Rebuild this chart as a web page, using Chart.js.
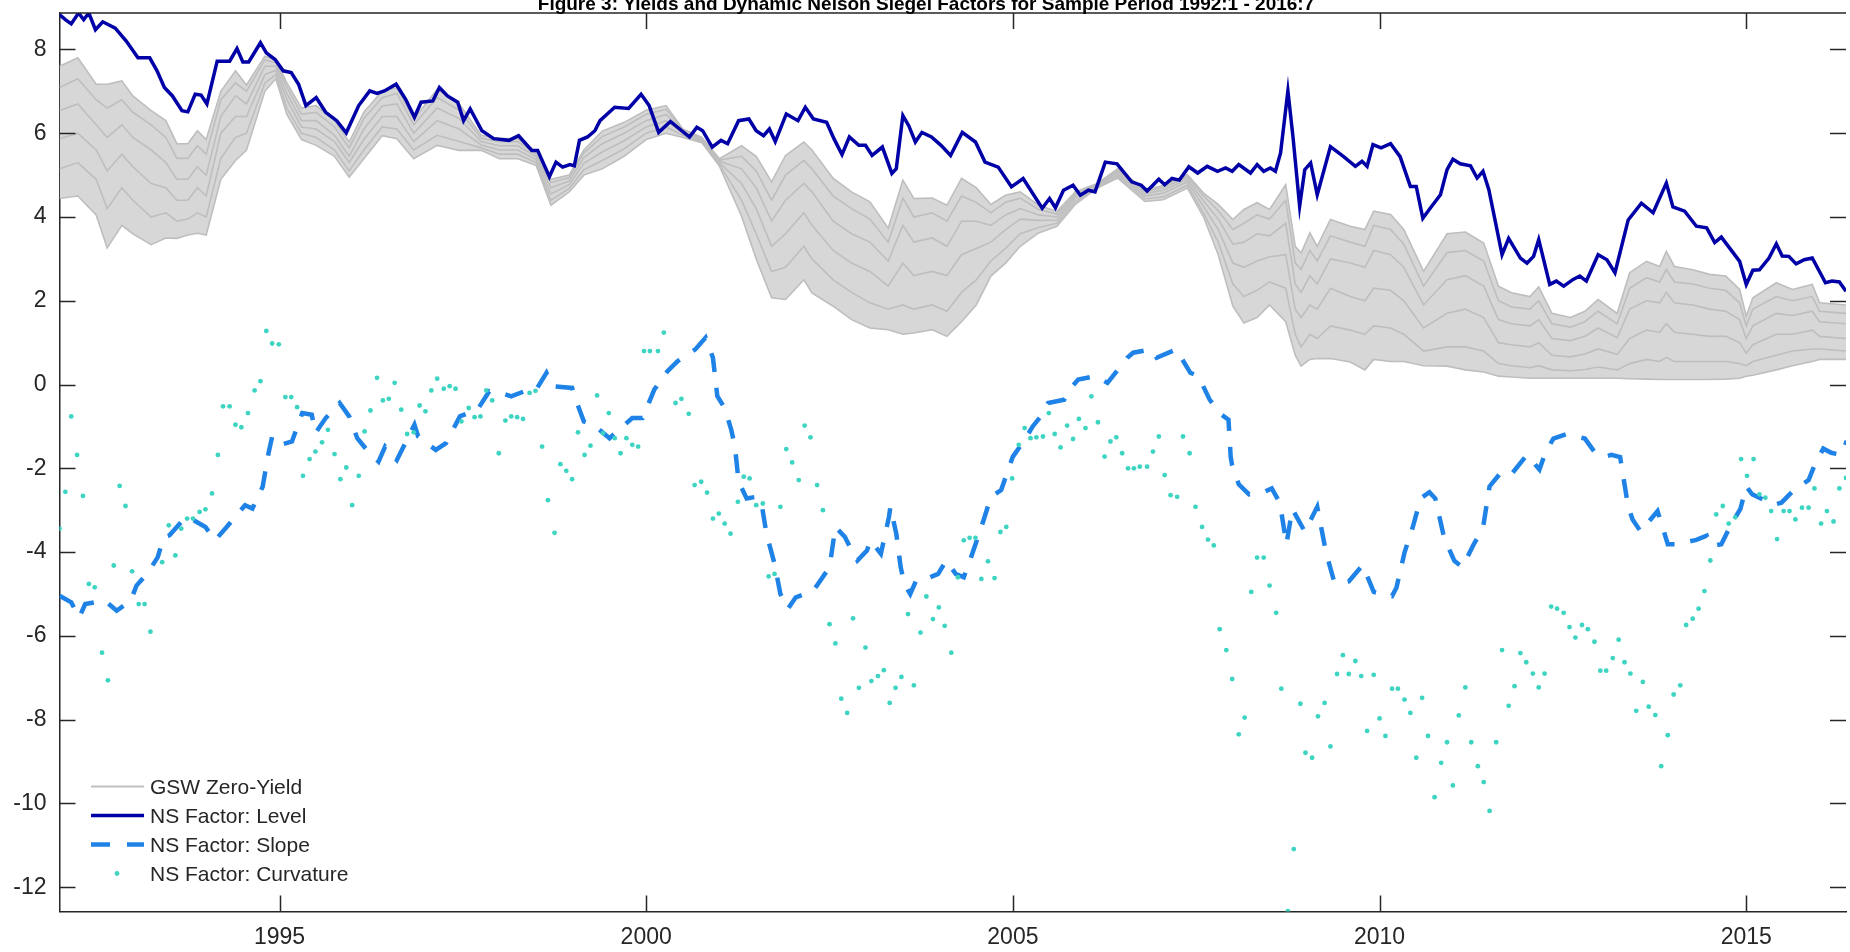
<!DOCTYPE html>
<html>
<head>
<meta charset="utf-8">
<title>Yields and Dynamic Nelson Siegel Factors</title>
<script src="https://cdn.jsdelivr.net/npm/chart.js@4.4.1/dist/chart.umd.min.js"></script>
<style>
  html, body { margin: 0; padding: 0; background: #fff; }
  #wrap { position: relative; width: 1850px; height: 952px; overflow: hidden; }
  #legend { position: absolute; left: 91px; top: 772px; font: 21px "Liberation Sans", Arial, sans-serif; color: #262626; }
  .row { height: 29px; display: flex; align-items: center; white-space: nowrap; }
  .row svg { width: 54px; height: 29px; margin-right: 5px; flex: none; }
</style>
</head>
<body>
<div id="wrap">
  <canvas id="chart" width="1850" height="952"></canvas>
  <div id="legend"></div>
</div>
<script>
const titleText = 'Figure 3: Yields and Dynamic Nelson Siegel Factors for Sample Period 1992:1 - 2016:7';
const seriesNames = ['GSW Zero-Yield', 'NS Factor: Level', 'NS Factor: Slope', 'NS Factor: Curvature'];

const xTicks = [1995, 2000, 2005, 2010, 2015];
const yTicks = [-12, -10, -8, -6, -4, -2, 0, 2, 4, 6, 8];

// GSW zero-coupon yields: shortest maturity (bottom of band) up to longest (top)
const yieldYears = [
  1992.0, 1992.25, 1992.5, 1992.65, 1992.85, 1993.0, 1993.25, 1993.45, 1993.6, 1993.75,
  1993.88, 1994.0, 1994.2, 1994.4, 1994.55, 1994.8, 1994.95, 1995.1, 1995.3, 1995.5,
  1995.75, 1995.95, 1996.15, 1996.4, 1996.6, 1996.83, 1997.15, 1997.45, 1997.75, 1998.0,
  1998.25, 1998.5, 1998.7, 1998.95, 1999.15, 1999.4, 1999.7, 2000.0, 2000.27, 2000.5,
  2000.76, 2001.0, 2001.3, 2001.5, 2001.71, 2001.9, 2002.15, 2002.26, 2002.55, 2002.8,
  2003.05, 2003.3, 2003.5, 2003.65, 2003.9, 2004.1, 2004.3, 2004.5, 2004.7, 2004.9,
  2005.1, 2005.35, 2005.6, 2005.85, 2006.15, 2006.43, 2006.8, 2007.05, 2007.38, 2007.6,
  2007.8, 2008.0, 2008.15, 2008.33, 2008.5, 2008.72, 2008.85, 2008.93, 2009.05, 2009.15,
  2009.33, 2009.6, 2009.8, 2009.92, 2010.15, 2010.33, 2010.6, 2010.92, 2011.17, 2011.42,
  2011.62, 2011.8, 2012.05, 2012.17, 2012.35, 2012.6, 2012.8, 2012.98, 2013.24, 2013.41,
  2013.64, 2013.82, 2013.91, 2014.02, 2014.27, 2014.5, 2014.72, 2014.91, 2015.0, 2015.09,
  2015.41, 2015.63, 2015.9, 2016.0, 2016.36
];
const yieldShort = [
  4.44, 4.5, 4.05, 3.26, 3.8, 3.6, 3.34, 3.5, 3.49, 3.57,
  3.61, 3.57, 4.9, 5.35, 5.6, 7.0, 7.3, 6.45, 5.85, 5.71,
  5.45, 4.95, 5.39, 5.94, 5.87, 5.39, 5.71, 5.59, 5.59, 5.39,
  5.39, 5.23, 4.28, 4.6, 5.0, 5.15, 5.45, 5.85, 6.0, 5.9,
  5.77, 5.21, 4.02, 3.0, 2.07, 2.03, 2.5, 2.19, 1.87, 1.55,
  1.35, 1.31, 1.2, 1.23, 1.31, 1.15, 1.5, 1.9, 2.59, 2.9,
  3.3, 3.62, 3.78, 4.3, 4.69, 4.93, 4.37, 4.41, 4.69, 4.0,
  3.1, 1.87, 1.47, 1.6, 1.9, 1.5, 0.7, 0.44, 0.6, 0.62,
  0.62, 0.54, 0.35, 0.6, 0.55, 0.55, 0.45, 0.44, 0.35, 0.3,
  0.2, 0.18, 0.15, 0.15, 0.15, 0.15, 0.15, 0.15, 0.15, 0.14,
  0.13, 0.12, 0.12, 0.12, 0.12, 0.12, 0.13, 0.15, 0.2, 0.22,
  0.35, 0.45, 0.55, 0.6, 0.6
];
const yield2 = [
  5.15, 5.3, 4.9, 4.2, 4.7, 4.4, 4.0, 4.1, 3.9, 3.95,
  4.1, 4.0, 5.4, 5.9, 6.0, 7.2, 7.4, 6.6, 6.0, 5.9,
  5.6, 5.1, 5.6, 6.15, 6.1, 5.6, 5.95, 5.8, 5.65, 5.5,
  5.5, 5.3, 4.4, 4.68, 5.13, 5.35, 5.63, 6.0, 6.15, 5.95,
  5.79, 5.25, 4.4, 3.6, 2.7, 2.8, 3.3, 3.0, 2.5, 2.2,
  1.95, 1.8, 1.9, 1.8, 1.9, 1.75, 2.2, 2.5, 2.95, 3.25,
  3.6, 3.75, 3.85, 4.37, 4.7, 4.97, 4.43, 4.48, 4.76, 4.1,
  3.4, 2.4, 2.1, 2.25, 2.45, 2.3, 1.2, 0.9, 1.2, 1.1,
  1.4, 1.3, 1.2, 1.4, 1.35, 1.2, 0.8, 0.9, 0.9, 0.8,
  0.5, 0.45, 0.4, 0.45, 0.35, 0.33, 0.36, 0.42, 0.35, 0.5,
  0.6, 0.55, 0.65, 0.55, 0.55, 0.55, 0.55, 0.5, 0.45, 0.55,
  0.7, 0.8, 0.85, 0.85, 0.8
];
const yield5 = [
  5.87, 6.0, 5.6, 5.1, 5.5, 5.2, 4.8, 4.7, 4.4, 4.4,
  4.7, 4.5, 6.0, 6.4, 6.4, 7.4, 7.5, 6.8, 6.15, 6.1,
  5.8, 5.3, 5.85, 6.4, 6.4, 5.8, 6.3, 6.1, 5.72, 5.6,
  5.6, 5.37, 4.55, 4.77, 5.28, 5.55, 5.82, 6.15, 6.3, 6.0,
  5.81, 5.29, 4.8, 4.2, 3.3, 3.6, 4.1, 3.8, 3.2, 2.9,
  2.7, 2.35, 2.9, 2.6, 2.7, 2.6, 3.1, 3.25, 3.4, 3.7,
  3.95, 3.92, 3.93, 4.44, 4.72, 5.02, 4.5, 4.57, 4.84, 4.25,
  3.7, 2.9, 2.8, 2.95, 3.05, 3.1, 1.8, 1.6, 1.9, 1.8,
  2.3, 2.1, 2.0, 2.3, 2.25, 2.0, 1.35, 1.7, 1.8, 1.6,
  1.0, 0.95, 0.9, 1.0, 0.7, 0.66, 0.73, 0.85, 0.72, 1.1,
  1.3, 1.25, 1.45, 1.25, 1.2, 1.15, 1.15, 1.0, 0.75, 0.95,
  1.2, 1.2, 1.3, 1.15, 1.1
];
const yield10 = [
  6.54, 6.7, 6.2, 5.9, 6.2, 5.9, 5.6, 5.3, 4.9, 4.9,
  5.2, 5.0, 6.4, 6.9, 6.7, 7.6, 7.6, 6.95, 6.3, 6.3,
  5.95, 5.45, 6.1, 6.65, 6.7, 6.0, 6.6, 6.35, 5.8, 5.7,
  5.7, 5.44, 4.7, 4.86, 5.42, 5.75, 6.0, 6.3, 6.45, 6.05,
  5.84, 5.33, 5.15, 4.7, 3.9, 4.4, 4.8, 4.6, 3.9, 3.6,
  3.4, 2.95, 3.8, 3.4, 3.5, 3.3, 3.9, 3.9, 3.8, 4.05,
  4.2, 4.05, 4.0, 4.5, 4.75, 5.07, 4.56, 4.64, 4.9, 4.38,
  3.95, 3.35, 3.4, 3.6, 3.55, 3.85, 2.4, 2.2, 2.6, 2.4,
  3.0, 2.9, 2.8, 3.2, 3.1, 2.8, 1.9, 2.5, 2.6, 2.35,
  1.55, 1.45, 1.4, 1.55, 1.1, 1.05, 1.15, 1.35, 1.12, 1.8,
  2.0, 1.95, 2.2, 1.95, 1.9, 1.8, 1.75, 1.55, 1.1, 1.4,
  1.7, 1.65, 1.75, 1.5, 1.45
];
const yield20 = [
  7.09, 7.3, 6.8, 6.6, 6.8, 6.5, 6.2, 5.9, 5.4, 5.4,
  5.7, 5.5, 6.8, 7.2, 7.0, 7.75, 7.68, 7.1, 6.45, 6.5,
  6.15, 5.65, 6.35, 6.85, 6.95, 6.2, 6.85, 6.55, 5.88, 5.8,
  5.8, 5.5, 4.82, 4.94, 5.53, 5.92, 6.15, 6.45, 6.57, 6.08,
  5.87, 5.36, 5.45, 5.1, 4.4, 5.0, 5.35, 5.15, 4.5, 4.2,
  3.95, 3.4, 4.45, 4.0, 4.1, 3.9, 4.5, 4.35, 4.1, 4.35,
  4.45, 4.18, 4.07, 4.55, 4.78, 5.11, 4.61, 4.7, 4.96, 4.5,
  4.15, 3.7, 3.85, 4.05, 3.95, 4.4, 2.9, 2.75, 3.2, 2.95,
  3.55, 3.4, 3.3, 3.8, 3.7, 3.35, 2.35, 3.15, 3.2, 2.95,
  2.0, 1.85, 1.8, 2.0, 1.45, 1.37, 1.5, 1.75, 1.45, 2.3,
  2.55, 2.45, 2.75, 2.45, 2.4, 2.3, 2.25, 1.95, 1.4, 1.8,
  2.1, 2.0, 2.1, 1.75, 1.7
];
const yieldLong = [
  7.6, 7.8, 7.17, 7.17, 7.25, 6.89, 6.54, 6.3, 5.75, 5.75,
  6.06, 5.85, 7.0, 7.49, 7.15, 7.84, 7.75, 7.2, 6.6, 6.66,
  6.3, 5.79, 6.5, 7.0, 7.09, 6.34, 7.05, 6.7, 5.95, 5.87,
  5.87, 5.55, 4.9, 5.0, 5.6, 6.05, 6.26, 6.55, 6.66, 6.1,
  5.9, 5.39, 5.7, 5.45, 4.84, 5.47, 5.79, 5.6, 4.92, 4.6,
  4.36, 3.73, 4.88, 4.44, 4.45, 4.28, 4.92, 4.7, 4.3, 4.52,
  4.6, 4.28, 4.13, 4.6, 4.8, 5.15, 4.65, 4.75, 5.01, 4.57,
  4.3, 3.94, 4.18, 4.34, 4.18, 4.77, 3.3, 3.14, 3.62, 3.3,
  3.94, 3.78, 3.7, 4.14, 4.06, 3.7, 2.7, 3.6, 3.64, 3.38,
  2.35, 2.19, 2.1, 2.33, 1.7, 1.6, 1.75, 2.03, 1.7, 2.67,
  2.94, 2.82, 3.18, 2.82, 2.74, 2.63, 2.59, 2.27, 1.63, 2.07,
  2.43, 2.27, 2.39, 1.95, 1.9
];

// NS factor: level
const levelYears = [
  1992.0, 1992.08, 1992.16, 1992.26, 1992.33, 1992.4, 1992.49, 1992.59, 1992.76, 1992.91,
  1993.07, 1993.23, 1993.33, 1993.43, 1993.54, 1993.67, 1993.75, 1993.85, 1993.93, 1994.01,
  1994.15, 1994.32, 1994.42, 1994.5, 1994.58, 1994.74, 1994.82, 1994.94, 1995.05, 1995.16,
  1995.26, 1995.36, 1995.5, 1995.63, 1995.78, 1995.91, 1996.08, 1996.23, 1996.33, 1996.43,
  1996.59, 1996.72, 1996.84, 1996.93, 1997.09, 1997.18, 1997.29, 1997.43, 1997.51, 1997.6,
  1997.76, 1997.92, 1998.13, 1998.26, 1998.44, 1998.52, 1998.68, 1998.77, 1998.86, 1998.96,
  1999.02, 1999.09, 1999.2, 1999.3, 1999.37, 1999.57, 1999.76, 1999.93, 2000.04, 2000.17,
  2000.33, 2000.59, 2000.69, 2000.77, 2000.9, 2001.02, 2001.11, 2001.26, 2001.4, 2001.5,
  2001.6, 2001.68, 2001.76, 2001.91, 2002.07, 2002.17, 2002.28, 2002.46, 2002.56, 2002.67,
  2002.77, 2002.9, 2002.99, 2003.08, 2003.22, 2003.35, 2003.41, 2003.5, 2003.58, 2003.67,
  2003.76, 2003.89, 2004.02, 2004.15, 2004.31, 2004.49, 2004.62, 2004.8, 2004.98, 2005.14,
  2005.4, 2005.5, 2005.58, 2005.69, 2005.82, 2005.92, 2006.03, 2006.12, 2006.26, 2006.42,
  2006.62, 2006.75, 2006.83, 2006.99, 2007.07, 2007.17, 2007.27, 2007.4, 2007.52, 2007.65,
  2007.79, 2007.9, 2007.99, 2008.08, 2008.24, 2008.33, 2008.42, 2008.51, 2008.58, 2008.65,
  2008.75, 2008.82, 2008.91, 2008.98, 2009.06, 2009.15, 2009.33, 2009.51, 2009.67, 2009.76,
  2009.83, 2009.91, 2010.02, 2010.15, 2010.28, 2010.42, 2010.5, 2010.59, 2010.69, 2010.83,
  2010.92, 2011.0, 2011.1, 2011.24, 2011.33, 2011.41, 2011.49, 2011.67, 2011.76, 2011.92,
  2012.01, 2012.1, 2012.17, 2012.32, 2012.41, 2012.51, 2012.64, 2012.73, 2012.82, 2012.98,
  2013.1, 2013.21, 2013.39, 2013.57, 2013.73, 2013.91, 2014.0, 2014.16, 2014.32, 2014.46,
  2014.57, 2014.66, 2014.91, 2015.0, 2015.09, 2015.18, 2015.31, 2015.41, 2015.49, 2015.58,
  2015.68, 2015.79, 2015.9, 2016.08, 2016.17, 2016.27, 2016.36
];
const level = [
  8.83, 8.71, 8.61, 8.87, 8.71, 8.87, 8.47, 8.66, 8.51, 8.2,
  7.8, 7.8, 7.49, 7.09, 6.89, 6.54, 6.51, 6.93, 6.91, 6.7,
  7.72, 7.72, 8.02, 7.7, 7.7, 8.16, 7.92, 7.76, 7.49, 7.45,
  7.17, 6.66, 6.85, 6.5, 6.3, 6.01, 6.66, 7.01, 6.95, 7.01,
  7.17, 6.81, 6.38, 6.74, 6.77, 7.09, 6.89, 6.74, 6.3, 6.58,
  6.06, 5.87, 5.83, 5.94, 5.59, 5.59, 4.96, 5.31, 5.19, 5.25,
  5.22, 5.83, 5.91, 6.06, 6.3, 6.62, 6.59, 6.93, 6.66, 6.02,
  6.28, 5.91, 6.14, 6.06, 5.67, 5.83, 5.75, 6.3, 6.34, 6.06,
  5.94, 6.1, 5.8, 6.46, 6.3, 6.62, 6.34, 6.26, 5.87, 5.49,
  5.91, 5.71, 5.71, 5.47, 5.67, 5.04, 5.15, 6.42, 6.18, 5.79,
  6.02, 5.91, 5.71, 5.47, 6.02, 5.79, 5.31, 5.19, 4.72, 4.92,
  4.21, 4.44, 4.22, 4.64, 4.76, 4.52, 4.64, 4.6, 5.31, 5.27,
  4.84, 4.76, 4.62, 4.9, 4.77, 4.92, 4.88, 5.2, 5.05, 5.21,
  5.09, 5.17, 5.09, 5.25, 5.05, 5.25, 5.09, 5.17, 5.09, 5.53,
  7.01, 5.9, 4.26, 5.13, 5.29, 4.53, 5.68, 5.44, 5.21, 5.33,
  5.21, 5.73, 5.65, 5.75, 5.44, 4.73, 4.73, 3.97, 4.21, 4.53,
  5.13, 5.38, 5.27, 5.22, 4.93, 5.09, 4.65, 3.1, 3.49, 3.02,
  2.9, 3.06, 3.46, 2.39, 2.47, 2.35, 2.51, 2.59, 2.47, 3.1,
  2.98, 2.67, 3.93, 4.33, 4.1, 4.81, 4.24, 4.14, 3.78, 3.74,
  3.39, 3.52, 2.94, 2.39, 2.73, 2.74, 3.02, 3.36, 3.07, 3.06,
  2.88, 2.98, 3.02, 2.43, 2.47, 2.45, 2.23
];

// NS factor: slope
const slopeYears = [
  1992.0, 1992.16, 1992.27, 1992.35, 1992.62, 1992.78, 1992.97, 1993.05, 1993.21, 1993.34,
  1993.42, 1993.5, 1993.72, 1993.83, 1993.99, 1994.12, 1994.28, 1994.53, 1994.63, 1994.77,
  1994.85, 1994.9, 1995.01, 1995.17, 1995.31, 1995.44, 1995.49, 1995.63, 1995.82, 1995.95,
  1996.06, 1996.19, 1996.35, 1996.44, 1996.6, 1996.68, 1996.84, 1996.89, 1997.13, 1997.27,
  1997.46, 1997.7, 1997.86, 1998.02, 1998.16, 1998.4, 1998.5, 1998.64, 1998.72, 1998.99,
  1999.04, 1999.15, 1999.28, 1999.5, 1999.81, 1999.95, 2000.11, 2000.29, 2000.43, 2000.67,
  2000.81, 2000.91, 2000.97, 2001.07, 2001.16, 2001.21, 2001.26, 2001.37, 2001.5, 2001.58,
  2001.64, 2001.75, 2001.83, 2001.93, 2002.04, 2002.28, 2002.5, 2002.58, 2002.71, 2002.79,
  2002.88, 2003.01, 2003.06, 2003.2, 2003.31, 2003.33, 2003.41, 2003.47, 2003.52, 2003.6,
  2003.68, 2003.76, 2003.98, 2004.09, 2004.22, 2004.33, 2004.43, 2004.54, 2004.6, 2004.7,
  2004.84, 2004.95, 2005.0, 2005.16, 2005.27, 2005.38, 2005.48, 2005.7, 2005.81, 2005.89,
  2006.13, 2006.29, 2006.56, 2006.64, 2006.88, 2006.96, 2007.23, 2007.31, 2007.42, 2007.53,
  2007.68, 2007.82, 2007.94, 2007.97, 2007.99, 2008.08, 2008.22, 2008.42, 2008.53, 2008.64,
  2008.73, 2008.81, 2008.98, 2009.15, 2009.27, 2009.38, 2009.46, 2009.58, 2009.77, 2009.92,
  2010.17, 2010.23, 2010.34, 2010.45, 2010.56, 2010.68, 2010.76, 2010.88, 2011.02, 2011.13,
  2011.27, 2011.41, 2011.5, 2011.64, 2011.78, 2012.01, 2012.18, 2012.26, 2012.37, 2012.54,
  2012.8, 2012.94, 2013.05, 2013.16, 2013.28, 2013.39, 2013.45, 2013.56, 2013.79, 2013.93,
  2014.07, 2014.18, 2014.32, 2014.46, 2014.52, 2014.66, 2014.77, 2014.92, 2015.0, 2015.08,
  2015.2, 2015.37, 2015.48, 2015.65, 2015.85, 2015.93, 2016.05, 2016.16, 2016.3, 2016.37
];
const slope = [
  -5.04, -5.2, -5.56, -5.24, -5.16, -5.4, -5.16, -4.8, -4.48, -4.12,
  -3.64, -3.6, -3.16, -3.24, -3.4, -3.72, -3.4, -2.88, -2.96, -2.44,
  -1.64, -1.24, -1.44, -1.36, -0.68, -0.72, -1.16, -0.8, -0.44, -0.76,
  -1.28, -1.56, -1.84, -1.48, -1.8, -1.52, -0.96, -1.24, -1.56, -1.4,
  -0.76, -0.6, -0.16, -0.2, -0.28, -0.12, -0.12, 0.28, -0.04, -0.08,
  -0.36, -0.88, -0.96, -1.28, -0.8, -0.8, -0.12, 0.32, 0.56, 0.84,
  1.12, 0.64, -0.28, -0.56, -1.08, -1.48, -2.32, -2.72, -2.68, -2.92,
  -3.56, -4.28, -5.0, -5.36, -5.08, -4.92, -4.36, -3.4, -3.64, -3.92,
  -4.2, -3.96, -3.72, -4.04, -3.16, -2.92, -3.56, -4.36, -4.76, -5.0,
  -4.68, -4.68, -4.52, -4.2, -4.52, -4.6, -4.12, -3.56, -3.24, -2.68,
  -2.52, -1.96, -1.72, -1.32, -1.0, -0.76, -0.44, -0.36, -0.04, 0.12,
  0.2, 0.04, 0.64, 0.76, 0.84, 0.64, 0.84, 0.6, 0.28, 0.2,
  -0.35, -0.69, -0.84, -1.73, -1.93, -2.38, -2.62, -2.57, -2.48, -2.82,
  -3.81, -2.97, -3.51, -2.92, -4.01, -4.7, -4.75, -4.7, -4.31, -4.95,
  -5.05, -4.85, -4.01, -3.42, -2.72, -2.57, -2.72, -3.66, -4.21, -4.36,
  -3.86, -3.42, -2.43, -2.13, -2.18, -1.68, -2.03, -1.63, -1.29, -1.19,
  -1.29, -1.63, -1.73, -1.68, -1.73, -2.92, -3.22, -3.51, -3.02, -3.81,
  -3.81, -3.76, -3.71, -3.61, -3.86, -3.81, -3.42, -2.97, -2.43, -2.62,
  -2.72, -2.87, -2.82, -2.52, -2.28, -1.93, -1.53, -1.63, -1.68, -1.34
];

// NS factor: curvature (monthly points)
const curvYears = [
  1992.0, 1992.08, 1992.16, 1992.24, 1992.32, 1992.4, 1992.48, 1992.58, 1992.66, 1992.74,
  1992.82, 1992.9, 1992.99, 1993.08, 1993.16, 1993.24, 1993.4, 1993.49, 1993.58, 1993.66,
  1993.74, 1993.82, 1993.91, 1993.99, 1994.08, 1994.16, 1994.23, 1994.32, 1994.4, 1994.48,
  1994.57, 1994.66, 1994.74, 1994.82, 1994.9, 1994.99, 1995.08, 1995.16, 1995.24, 1995.32,
  1995.41, 1995.49, 1995.58, 1995.66, 1995.75, 1995.83, 1995.91, 1995.99, 1996.08, 1996.16,
  1996.24, 1996.33, 1996.41, 1996.49, 1996.57, 1996.66, 1996.74, 1996.83, 1996.91, 1996.99,
  1997.07, 1997.15, 1997.24, 1997.32, 1997.4, 1997.48, 1997.58, 1997.66, 1997.74, 1997.82,
  1997.9, 1997.99, 1998.08, 1998.16, 1998.24, 1998.32, 1998.41, 1998.49, 1998.58, 1998.66,
  1998.75, 1998.83, 1998.91, 1998.99, 1999.07, 1999.16, 1999.24, 1999.33, 1999.41, 1999.49,
  1999.57, 1999.65, 1999.73, 1999.81, 1999.89, 1999.97, 2000.05, 2000.16, 2000.24, 2000.4,
  2000.48, 2000.58, 2000.66, 2000.75, 2000.83, 2000.91, 2000.99, 2001.07, 2001.15, 2001.25,
  2001.33, 2001.41, 2001.5, 2001.59, 2001.67, 2001.75, 2001.83, 2001.91, 2001.99, 2002.08,
  2002.16, 2002.24, 2002.33, 2002.41, 2002.5, 2002.58, 2002.66, 2002.74, 2002.82, 2002.9,
  2002.99, 2003.07, 2003.16, 2003.24, 2003.32, 2003.4, 2003.48, 2003.57, 2003.65, 2003.74,
  2003.82, 2003.91, 2003.99, 2004.07, 2004.16, 2004.25, 2004.33, 2004.41, 2004.49, 2004.57,
  2004.66, 2004.75, 2004.83, 2004.91, 2004.99, 2005.08, 2005.16, 2005.24, 2005.32, 2005.41,
  2005.49, 2005.57, 2005.65, 2005.74, 2005.82, 2005.9, 2005.99, 2006.07, 2006.16, 2006.25,
  2006.33, 2006.41, 2006.49, 2006.57, 2006.65, 2006.73, 2006.83, 2006.91, 2006.99, 2007.07,
  2007.15, 2007.24, 2007.32, 2007.41, 2007.49, 2007.58, 2007.66, 2007.74, 2007.82, 2007.91,
  2007.99, 2008.08, 2008.16, 2008.25, 2008.33, 2008.42, 2008.5, 2008.59, 2008.66, 2008.75,
  2008.83, 2008.92, 2008.99, 2009.08, 2009.16, 2009.25, 2009.33, 2009.42, 2009.5, 2009.58,
  2009.67, 2009.75, 2009.83, 2009.92, 2010.0, 2010.08, 2010.17, 2010.25, 2010.34, 2010.42,
  2010.5, 2010.58, 2010.66, 2010.75, 2010.84, 2010.92, 2011.0, 2011.08, 2011.17, 2011.25,
  2011.34, 2011.42, 2011.5, 2011.59, 2011.67, 2011.76, 2011.84, 2011.92, 2012.0, 2012.09,
  2012.17, 2012.25, 2012.34, 2012.42, 2012.51, 2012.59, 2012.67, 2012.76, 2012.84, 2012.93,
  2013.01, 2013.09, 2013.18, 2013.26, 2013.34, 2013.42, 2013.5, 2013.59, 2013.67, 2013.76,
  2013.84, 2013.93, 2014.01, 2014.1, 2014.18, 2014.27, 2014.35, 2014.43, 2014.51, 2014.59,
  2014.68, 2014.76, 2014.85, 2014.93, 2015.01, 2015.1, 2015.18, 2015.26, 2015.34, 2015.42,
  2015.51, 2015.59, 2015.67, 2015.76, 2015.85, 2015.93, 2016.02, 2016.1, 2016.19, 2016.27,
  2016.36
];
const curvature = [
  -3.44, -2.56, -0.76, -1.68, -2.66, -4.76, -4.84, -6.4, -7.06, -4.32,
  -2.42, -2.9, -4.46, -5.24, -5.24, -5.9, -4.24, -3.36, -4.08, -3.44,
  -3.2, -3.2, -3.04, -2.98, -2.6, -1.68, -0.52, -0.52, -0.96, -1.02,
  -0.68, -0.14, 0.08, 1.28, 0.98, 0.96, -0.3, -0.3, -0.54, -2.18,
  -1.78, -1.6, -1.38, -1.08, -1.66, -2.26, -1.98, -2.88, -2.18, -1.12,
  -0.62, 0.16, -0.38, -0.34, 0.04, -0.6, -1.18, -1.14, -0.5, -0.64,
  -0.14, 0.14, -0.1, -0.04, -0.1, -0.88, -0.56, -0.78, -0.76, -0.14,
  -0.38, -1.64, -0.86, -0.76, -0.78, -0.82, -0.2, -0.15, -1.48, -2.76,
  -3.54, -1.9, -2.06, -2.26, -1.14, -1.68, -1.46, -0.26, -1.16, -0.68,
  -1.28, -1.64, -1.28, -1.44, -1.48, 0.8, 0.8, 0.8, 1.24, -0.44,
  -0.34, -0.7, -2.4, -2.32, -2.58, -3.2, -3.08, -3.32, -3.56, -2.8,
  -2.2, -2.24, -2.88, -2.84, -4.58, -4.52, -2.92, -1.54, -1.86, -2.28,
  -0.98, -1.26, -2.4, -3.0, -5.72, -6.18, -7.5, -7.84, -5.58, -7.24,
  -6.28, -7.08, -6.96, -6.82, -7.6, -7.24, -6.98, -5.48, -7.18, -5.92,
  -5.06, -5.6, -5.32, -5.76, -6.4, -4.6, -3.72, -3.66, -3.66, -4.64,
  -4.22, -4.62, -3.52, -3.4, -2.24, -1.44, -1.04, -1.28, -1.26, -1.24,
  -0.68, -1.18, -1.5, -0.98, -1.3, -0.82, -1.04, -0.28, -0.9, -1.72,
  -1.36, -1.26, -1.64, -2.0, -2.0, -1.96, -1.96, -1.6, -1.24, -2.16,
  -2.64, -2.68, -1.24, -1.64, -2.92, -3.4, -3.7, -3.84, -5.84, -6.34,
  -7.03, -8.35, -7.95, -4.95, -4.13, -4.13, -4.8, -5.45, -7.26, -12.57,
  -11.09, -7.62, -8.79, -8.91, -7.92, -7.6, -8.64, -6.91, -6.46, -6.91,
  -6.6, -6.96, -8.27, -6.93, -7.97, -8.39, -7.26, -7.26, -7.52, -7.84,
  -8.91, -7.48, -8.39, -9.85, -9.03, -8.54, -9.57, -7.9, -7.23, -8.54,
  -9.11, -9.49, -10.18, -8.54, -6.34, -7.67, -7.2, -6.41, -6.63, -6.9,
  -7.23, -6.9, -5.3, -5.35, -5.45, -5.79, -6.04, -5.74, -5.84, -6.14,
  -6.83, -6.83, -6.53, -6.09, -6.63, -6.9, -7.79, -7.1, -7.69, -7.89,
  -9.11, -8.37, -7.4, -7.18, -5.74, -5.59, -5.35, -4.93, -4.2, -3.1,
  -2.9, -3.32, -3.17, -1.78, -2.18, -1.78, -2.62, -2.7, -3.02, -3.69,
  -3.02, -3.02, -3.22, -2.94, -2.94, -2.48, -3.32, -3.02, -3.27, -2.48,
  -2.23
];

const axisColor = '#262626';
const bandLine = '#bebebe';
const bandFill = '#d7d7d7';
const levelColor = '#0000a6';
const slopeColor = '#1e82e6';
const curvColor = '#3dd4c2';
const tickLen = 16;

Chart.defaults.font.family = '"Liberation Sans", Arial, Helvetica, sans-serif';

function pts(xs, ys) {
    return xs.map((x, i) => ({ x: x, y: ys[i] }));
}

const yieldSeries = [yieldShort, yield2, yield5, yield10, yield20, yieldLong];
const datasets = yieldSeries.map((vals, i) => ({
    label: i === 0 ? seriesNames[0] : '',
    data: pts(yieldYears, vals),
    borderColor: bandLine,
    borderWidth: 1.6,
    pointRadius: 0,
    fill: i === yieldSeries.length - 1 ? '-' + (yieldSeries.length - 1) : false,
    backgroundColor: bandFill,
    order: 10
}));

datasets.push({
    label: seriesNames[1],
    data: pts(levelYears, level),
    borderColor: levelColor,
    borderWidth: 3.5,
    pointRadius: 0,
    fill: false,
    order: 2
});
datasets.push({
    label: seriesNames[2],
    data: pts(slopeYears, slope),
    borderColor: slopeColor,
    borderWidth: 4.5,
    borderDash: [19, 16],
    borderCapStyle: 'butt',
    pointRadius: 0,
    fill: false,
    order: 1
});
datasets.push({
    label: seriesNames[3],
    data: pts(curvYears, curvature),
    showLine: false,
    pointRadius: 2.4,
    pointBackgroundColor: curvColor,
    pointBorderWidth: 0,
    fill: false,
    order: 0
});

// box, inward ticks and the (cut off) title, MATLAB style
const matlabAxes = {
    id: 'matlabAxes',
    afterDraw(chart) {
        const { ctx, chartArea: a, scales: { x, y } } = chart;
        ctx.save();
        ctx.strokeStyle = axisColor;
        ctx.lineWidth = 1.5;
        ctx.beginPath();
        ctx.moveTo(a.left, a.top);
        ctx.lineTo(a.right, a.top);
        xTicks.forEach(v => {
            const px = Math.round(x.getPixelForValue(v)) + 0.5;
            ctx.moveTo(px, a.bottom);
            ctx.lineTo(px, a.bottom - tickLen);
            ctx.moveTo(px, a.top);
            ctx.lineTo(px, a.top + tickLen);
        });
        yTicks.forEach(v => {
            const py = Math.round(y.getPixelForValue(v)) + 0.5;
            ctx.moveTo(a.left, py);
            ctx.lineTo(a.left + tickLen, py);
            ctx.moveTo(a.right, py);
            ctx.lineTo(a.right - tickLen, py);
        });
        ctx.stroke();

        ctx.fillStyle = '#000';
        ctx.font = 'bold 19px "Liberation Sans", Arial, sans-serif';
        ctx.textAlign = 'center';
        ctx.textBaseline = 'alphabetic';
        ctx.fillText(titleText, 926, a.top - 3);
        ctx.restore();
    }
};

const tickFont = { size: 23 };

new Chart(document.getElementById('chart'), {
    type: 'line',
    data: { datasets: datasets },
    options: {
        responsive: false,
        animation: false,
        devicePixelRatio: 1,
        layout: { padding: { top: 13, right: 0, bottom: 0, left: 0 } },
        plugins: {
            legend: { display: false },
            tooltip: { enabled: false },
            filler: { drawTime: 'beforeDatasetsDraw' }
        },
        scales: {
            x: {
                type: 'linear',
                min: 1992,
                max: 2016.36,
                grid: { display: false, drawTicks: false },
                border: { display: true, color: axisColor, width: 1.5 },
                ticks: {
                    font: tickFont,
                    color: axisColor,
                    padding: 12,
                    maxRotation: 0,
                    autoSkip: false,
                    callback: v => String(v)
                },
                afterBuildTicks: s => { s.ticks = xTicks.map(v => ({ value: v })); },
                afterFit: s => { s.height = 40.5; s.paddingLeft = 0; s.paddingRight = 0; }
            },
            y: {
                min: -12.58,
                max: 8.87,
                grid: { display: false, drawTicks: false },
                border: { display: true, color: axisColor, width: 1.5 },
                ticks: {
                    font: tickFont,
                    color: axisColor,
                    padding: 13,
                    autoSkip: false,
                    callback: v => String(v)
                },
                afterBuildTicks: s => { s.ticks = yTicks.map(v => ({ value: v })); },
                afterFit: s => { s.width = 59.5; s.paddingTop = 0; s.paddingBottom = 0; }
            }
        }
    },
    plugins: [matlabAxes]
});

// legend in the lower left corner of the axes
const samples = [
    '<line x1="0" y1="14.5" x2="53" y2="14.5" stroke="#c0c0c0" stroke-width="2"/>',
    '<line x1="0" y1="14.5" x2="53" y2="14.5" stroke="' + levelColor + '" stroke-width="3.5"/>',
    '<line x1="0" y1="14.5" x2="53" y2="14.5" stroke="' + slopeColor + '" stroke-width="4.5" stroke-dasharray="19 17"/>',
    '<circle cx="26" cy="14.5" r="2.4" fill="' + curvColor + '"/>'
];
document.getElementById('legend').innerHTML = seriesNames.map((name, i) =>
    '<div class="row"><svg viewBox="0 0 54 29">' + samples[i] + '</svg><span>' + name + '</span></div>'
).join('');
</script>
</body>
</html>
